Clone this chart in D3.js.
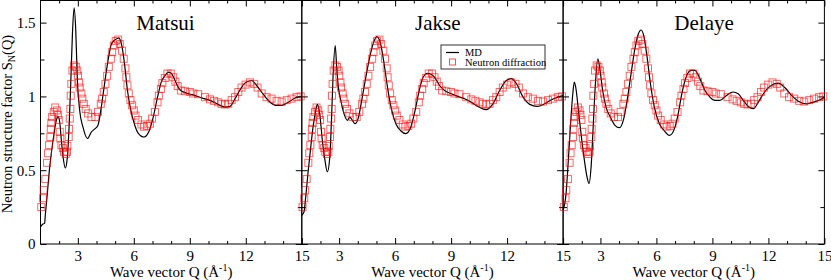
<!DOCTYPE html>
<html>
<head>
<meta charset="utf-8">
<script src="https://cdn.jsdelivr.net/npm/d3@7"></script>
<style>
body { margin: 0; background: #fff; }
svg text { font-family: "Liberation Serif", "Times New Roman", serif; fill: #000; }
</style>
</head>
<body>
<div id="content"></div>
<script>
// neutron diffraction (same experiment in every panel)
var expQ = [1.04,1.13,1.17,1.26,1.35,1.40,1.46,1.53,1.55,1.58,1.62,1.71,1.79,1.88,1.93,1.98,2.03,2.06,2.12,2.20,
    2.26,2.35,2.42,2.44,2.51,2.53,2.57,2.60,2.62,2.65,2.71,2.80,2.89,2.97,3.01,3.07,3.10,3.19,3.24,3.32,
    3.42,3.55,3.73,3.94,4.08,4.23,4.30,4.39,4.48,4.57,4.66,4.77,4.84,4.93,5.03,5.16,5.25,5.37,5.46,5.55,
    5.60,5.66,5.73,5.82,5.91,6.00,6.09,6.23,6.41,6.55,6.71,6.86,6.98,7.13,7.27,7.34,7.45,7.53,7.66,7.80,
    7.98,8.11,8.23,8.35,8.52,8.74,9.00,9.18,9.45,9.81,10.08,10.30,10.52,10.70,10.88,11.06,11.24,11.42,11.60,11.77,
    11.99,12.22,12.45,12.63,12.85,13.11,13.38,13.65,13.92,14.19,14.45,14.72,14.94];
var expS = [0.25,0.31,0.365,0.44,0.55,0.615,0.67,0.725,0.78,0.82,0.86,0.895,0.925,0.905,0.875,0.84,0.76,0.715,0.67,0.65,
    0.625,0.61,0.625,0.665,0.725,0.78,0.85,0.915,1.005,1.085,1.175,1.21,1.2,1.175,1.14,1.095,1.06,1.02,0.985,0.95,
    0.915,0.885,0.86,0.86,0.895,0.95,0.985,1.03,1.085,1.14,1.2,1.255,1.3,1.345,1.375,1.385,1.355,1.31,1.255,1.19,
    1.13,1.075,1.02,0.975,0.94,0.905,0.87,0.84,0.81,0.795,0.80,0.815,0.85,0.895,0.96,1.005,1.05,1.09,1.125,1.155,
    1.155,1.13,1.1,1.07,1.04,1.035,1.03,1.02,1.015,0.995,0.98,0.97,0.96,0.95,0.945,0.95,0.975,0.995,1.03,1.06,
    1.08,1.095,1.085,1.06,1.02,0.995,0.985,0.97,0.965,0.975,0.985,0.995,1.0];

// MD curves
var matsuiQ = [1.0,1.13,1.22,1.26,1.35,1.46,1.58,1.71,1.85,1.94,2.03,2.12,2.21,2.33,2.44,2.53,2.62,2.71,2.8,2.89,
    2.97,3.1,3.28,3.51,3.73,3.91,4.08,4.23,4.41,4.62,4.8,5.01,5.2,5.37,5.52,5.66,5.84,6.05,6.23,6.55,
    6.8,7.04,7.27,7.48,7.66,7.88,8.02,8.29,8.47,8.82,9.18,9.63,10.08,10.52,10.88,11.15,11.42,11.69,11.95,12.31,
    12.58,12.94,13.3,13.65,13.92,14.28,14.64,15.0];
var matsuiS = [0.115,0.135,0.14,0.2,0.32,0.48,0.615,0.735,0.84,0.865,0.825,0.7,0.59,0.515,0.59,0.79,1.085,1.42,1.6,1.445,
    1.13,0.905,0.79,0.715,0.76,0.78,0.805,0.905,1.065,1.245,1.355,1.385,1.395,1.335,1.2,1.04,0.905,0.805,0.752,0.725,
    0.76,0.86,0.995,1.1,1.14,1.165,1.155,1.085,1.045,1.022,1.01,0.99,0.973,0.946,0.928,0.932,0.984,1.045,1.09,1.108,
    1.074,1.014,0.961,0.939,0.939,0.961,0.989,1.0];

var jakseQ = [1.0,1.12,1.21,1.33,1.48,1.6,1.75,1.83,1.96,2.1,2.24,2.37,2.5,2.59,2.68,2.79,2.87,2.96,3.09,3.26,
    3.44,3.57,3.71,3.85,4.04,4.21,4.43,4.64,4.82,5.02,5.2,5.41,5.59,5.82,6.04,6.31,6.57,6.84,7.07,7.29,
    7.5,7.74,8.11,8.38,8.65,9.01,9.37,9.72,10.08,10.44,10.88,11.24,11.6,11.96,12.23,12.5,12.86,13.21,13.62,14.01,
    14.37,14.73,15.0];
var jakseS = [0.195,0.218,0.32,0.478,0.657,0.79,0.905,0.946,0.883,0.703,0.568,0.489,0.59,0.838,1.153,1.345,1.198,1.063,0.973,0.883,
    0.838,0.86,0.838,0.815,0.86,0.973,1.13,1.266,1.356,1.405,1.367,1.221,1.063,0.905,0.815,0.766,0.748,0.793,0.905,1.04,
    1.13,1.157,1.13,1.074,1.04,1.018,1.0,0.984,0.961,0.932,0.91,0.95,1.04,1.108,1.12,1.086,0.995,0.946,0.932,0.95,
    0.977,0.995,1.005];

var delayeQ = [1.0,1.16,1.28,1.39,1.52,1.6,1.69,1.82,1.96,2.14,2.28,2.39,2.5,2.62,2.73,2.86,2.98,3.12,3.3,3.53,
    3.78,4.02,4.25,4.43,4.64,4.86,5.03,5.18,5.32,5.5,5.68,5.89,6.16,6.43,6.7,6.93,7.15,7.36,7.59,7.86,
    8.06,8.33,8.6,8.87,9.13,9.4,9.76,10.11,10.38,10.65,10.92,11.19,11.46,11.73,12.08,12.53,12.89,13.24,13.6,14.05,
    14.41,14.77,15.0];
var delayeS = [0.23,0.343,0.568,0.793,1.018,1.097,1.052,0.905,0.748,0.568,0.455,0.41,0.522,0.815,1.086,1.255,1.176,1.04,0.928,0.86,
    0.804,0.788,0.85,0.973,1.153,1.333,1.423,1.45,1.412,1.266,1.086,0.928,0.815,0.766,0.736,0.77,0.872,1.018,1.13,1.176,
    1.176,1.12,1.04,0.995,0.973,0.973,1.007,1.03,1.018,0.973,0.932,0.917,0.961,1.018,1.068,1.09,1.059,1.007,0.968,0.95,
    0.961,0.977,0.995];

var panelNames = ['Matsui', 'Jakse', 'Delaye'];
var mdQ = [matsuiQ, jakseQ, delayeQ];
var mdS = [matsuiS, jakseS, delayeS];

var xMajor = [3, 6, 9, 12, 15];
var xMinor = [2, 4, 5, 7, 8, 10, 11, 13, 14];
var yMajor = [0, 0.5, 1, 1.5];
var yMinor = [0.25, 0.75, 1.25];
var legendLabels = ['MD', 'Neutron diffraction'];

var W = 831, H = 280;
var padL = 40.5, panelW = 261.3, topY = 0.5, botY = 244;
var titleX = [125, 136, 141]; // offset of each title centre from panel left
var serif = '"Liberation Serif", "Times New Roman", serif';

var svg = d3.select('#content').append('svg')
    .attr('width', W)
    .attr('height', H)
    .attr('font-family', serif);

var y = d3.scaleLinear().domain([0, 1.65]).range([botY, topY]);
var fmt = d3.format('');

panelNames.forEach(function(name, i) {
    var x0 = padL + i * panelW;
    var x = d3.scaleLinear().domain([1, 15]).range([x0, x0 + panelW]);
    var g = svg.append('g');

    // ticks on all four sides, pointing inward
    var ax = [
        d3.axisBottom(x).tickValues(xMajor).tickSize(-6).tickPadding(6).tickFormat(fmt),
        d3.axisBottom(x).tickValues(xMinor).tickSize(-3).tickFormat(''),
        d3.axisTop(x).tickValues(xMajor).tickSize(-6).tickFormat(''),
        d3.axisTop(x).tickValues(xMinor).tickSize(-3).tickFormat('')
    ];
    ax.forEach(function(a, k) {
        var ag = g.append('g')
            .attr('transform', 'translate(0,' + (k < 2 ? botY : topY) + ')')
            .call(a)
            .attr('font-family', serif);
        ag.select('.domain').remove();
        ag.selectAll('line').attr('stroke', '#000');
    });
    var ay = [
        d3.axisLeft(y).tickValues(yMajor).tickSize(-6).tickPadding(5).tickFormat(i > 0 ? '' : fmt),
        d3.axisLeft(y).tickValues(yMinor).tickSize(-4).tickFormat(''),
        d3.axisRight(y).tickValues(yMajor).tickSize(-6).tickFormat(''),
        d3.axisRight(y).tickValues(yMinor).tickSize(-4).tickFormat('')
    ];
    ay.forEach(function(a, k) {
        var ag = g.append('g')
            .attr('transform', 'translate(' + (k < 2 ? x0 : x0 + panelW) + ',0)')
            .call(a)
            .attr('font-family', serif);
        ag.select('.domain').remove();
        ag.selectAll('line').attr('stroke', '#000');
    });
    g.selectAll('.tick text')
        .attr('font-size', 15)
        .attr('font-family', serif);

    g.append('rect')
        .attr('x', x0).attr('y', topY)
        .attr('width', panelW).attr('height', botY - topY)
        .attr('fill', 'none').attr('stroke', '#000').attr('stroke-width', 1);

    // MD line
    var line = d3.line()
        .x(function(d) { return x(d[0]); })
        .y(function(d) { return y(d[1]); })
        .curve(d3.curveMonotoneX);
    g.append('path')
        .datum(d3.zip(mdQ[i], mdS[i]))
        .attr('d', line)
        .attr('fill', 'none')
        .attr('stroke', '#000')
        .attr('stroke-width', 1.2);

    // experimental squares
    g.selectAll('rect.exp')
        .data(d3.zip(expQ, expS))
        .enter().append('rect')
        .attr('class', 'exp')
        .attr('x', function(d) { return x(d[0]) - 3.5; })
        .attr('y', function(d) { return y(d[1]) - 3.5; })
        .attr('width', 7).attr('height', 7)
        .attr('fill', 'none')
        .attr('stroke', '#ff0000')
        .attr('stroke-opacity', 0.6)
        .attr('stroke-width', 1);

    g.append('text')
        .attr('x', x0 + titleX[i]).attr('y', 30)
        .attr('text-anchor', 'middle')
        .attr('font-size', 21)
        .text(name);

    var xl = g.append('text')
        .attr('x', x0 + panelW / 2).attr('y', 277)
        .attr('text-anchor', 'middle')
        .attr('font-size', 15);
    xl.append('tspan').text('Wave vector Q (\u00C5');
    xl.append('tspan').attr('font-size', 10).attr('dy', -6).text('-1');
    xl.append('tspan').attr('dy', 6).text(')');
});

// y label
var yl = svg.append('text')
    .attr('transform', 'translate(12,124) rotate(-90)')
    .attr('text-anchor', 'middle')
    .attr('font-size', 14.5);
yl.append('tspan').text('Neutron structure factor S');
yl.append('tspan').attr('font-size', 10).attr('dy', 3).text('N');
yl.append('tspan').attr('dy', -3).text('(Q)');

// legend in the middle panel
var lg = svg.append('g').attr('transform', 'translate(441,45)');
lg.append('rect')
    .attr('width', 104).attr('height', 24)
    .attr('fill', '#fff').attr('stroke', '#333').attr('stroke-width', 1);
lg.append('line')
    .attr('x1', 5).attr('x2', 18).attr('y1', 7.5).attr('y2', 7.5)
    .attr('stroke', '#000').attr('stroke-width', 1.2);
lg.append('rect')
    .attr('x', 8.5).attr('y', 14).attr('width', 6).attr('height', 6)
    .attr('fill', 'none').attr('stroke', '#ff0000').attr('stroke-opacity', 0.7);
lg.selectAll('text.leg')
    .data(legendLabels)
    .enter().append('text')
    .attr('class', 'leg')
    .attr('x', 24)
    .attr('y', function(d, k) { return 11 + k * 10; })
    .attr('font-size', 10.5)
    .text(function(d) { return d; });
</script>
</body>
</html>
